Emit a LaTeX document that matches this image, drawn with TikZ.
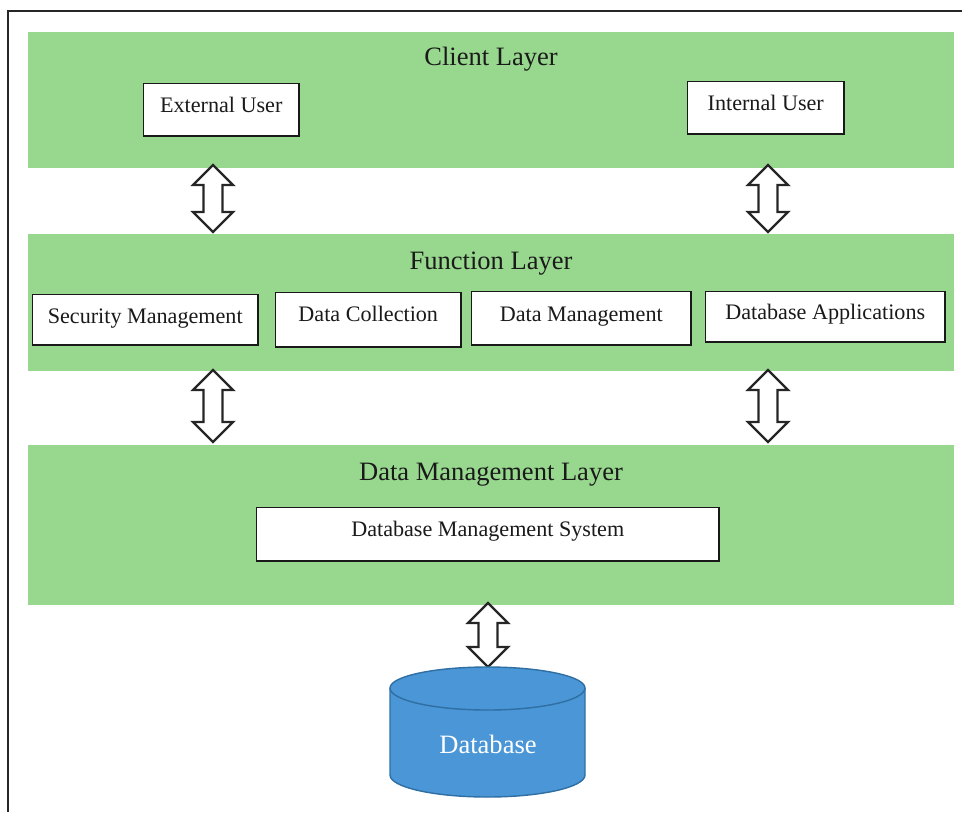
\documentclass[tikz,border=0pt]{standalone}
\usepackage{fontspec}
\setmainfont{Liberation Serif}
\usepackage{xcolor}
\usetikzlibrary{shapes.arrows,positioning}
\definecolor{layergreen}{HTML}{98D88E}
\definecolor{dbblue}{HTML}{4A96D6}
\definecolor{dbedge}{HTML}{2F6FA3}
\definecolor{inktext}{HTML}{1A1A1A}
\tikzset{
    layer/.style={fill=layergreen,draw=none,minimum width=18.52cm,inner sep=0pt},
    layertitle/.style={anchor=base,font=\fontsize{15.1}{18}\selectfont,inner sep=0pt,text=inktext},
    unit/.style={draw=black!90,fill=white,line width=0.65pt,inner sep=0pt},
    unittext/.style={anchor=base,inner sep=0pt,text=inktext,font=\fontsize{12.6}{15}\selectfont},
    updown/.style={shape=double arrow,draw=black!85,fill=white,line width=1.3pt,rotate=90,
        double arrow tip angle=90,double arrow head extend=0.2cm,double arrow head indent=0pt,
        minimum width=0.8cm,inner xsep=0pt,inner ysep=0.16cm}
}
\newcommand{\unitbox}[7]{% name, left, top, right, bottom, text baseline, text
    \node[unit,minimum width=#4*0.02cm-#2*0.02cm,minimum height=#5*0.02cm-#3*0.02cm] (#1)
        at ({(#2+#4)/2},{(#3+#5)/2}) {};
    \node[unittext] (#1text) at ({(#2+#4)/2},#6) {#7};
}
\begin{document}
\begin{tikzpicture}[x=0.02cm,y=-0.02cm]
    \useasboundingbox (0,0) rectangle (962,812);
    % frame runs off the page on the right and at the bottom
    \draw[line width=0.9pt,black!85] (8,812) -- (8,11) -- (962,11);

    % layers
    \node[layer,minimum height=2.72cm] (client) at (491,100) {};
    \node[layer,minimum height=2.74cm] (function) at (491,302.5) {};
    \node[layer,minimum height=3.2cm] (datalayer) at (491,525) {};
    \node[layertitle] (clienttitle) at (491,65) {Client Layer};
    \node[layertitle] (functiontitle) at (491,269) {Function Layer};
    \node[layertitle] (datatitle) at (491,480) {Data Management Layer};

    % boxes
    \unitbox{external}{143.5}{83.5}{299}{136}{112}{External User}
    \unitbox{internal}{687.5}{81.5}{844}{134}{110}{Internal User}
    \unitbox{security}{32.5}{294.5}{258}{345}{323}{Security Management}
    \unitbox{collection}{275.5}{292.5}{461}{347}{321}{Data Collection}
    \unitbox{management}{471.5}{291.5}{691}{345}{321}{Data Management}
    \unitbox{applications}{705.5}{291.5}{945}{342}{319}{Database Applications}
    \unitbox{dbms}{256.5}{507.5}{719}{561}{536}{Database Management System}

    % arrows
    \node[updown,minimum height=1.34cm] (a1) at (213,198.5) {};
    \node[updown,minimum height=1.34cm] (a2) at (768,198.5) {};
    \node[updown,minimum height=1.44cm] (a3) at (213,406) {};
    \node[updown,minimum height=1.44cm] (a4) at (768,406) {};
    \node[updown,minimum height=1.28cm] (a5) at (488,635) {};

    % database
    \draw[draw=dbedge,fill=dbblue,line width=0.8pt] (390,688) arc[start angle=180,end angle=360,x radius=97.5,y radius=21]
        -- (585,775) arc[start angle=0,end angle=180,x radius=97.5,y radius=22] -- cycle;
    \draw[draw=dbedge,line width=0.8pt] (390,688) arc[start angle=180,end angle=0,x radius=97.5,y radius=22];
    \node[text=white,anchor=base,inner sep=0pt,font=\fontsize{15.1}{18}\selectfont] (db) at (488,753) {Database};
\end{tikzpicture}
\end{document}
